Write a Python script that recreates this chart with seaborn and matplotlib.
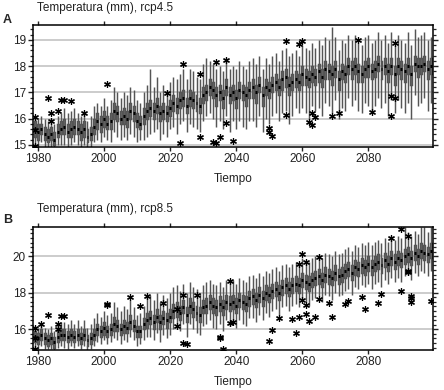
import numpy as np
import pandas as pd
import seaborn as sns
import matplotlib
matplotlib.use("Agg")
import matplotlib.pyplot as plt
from matplotlib.ticker import MultipleLocator

YEARS = list(range(1979, 2100))
XTICKS = [1980, 2000, 2020, 2040, 2060, 2080]

# rcp4.5 (panel A): whisker low, q1, median, q3, whisker high per year
A_MED = [15.6, 15.5, 15.6, 15.4, 15.3, 15.4, 15.2, 15.5, 15.6, 15.7,
         15.5, 15.6, 15.7, 15.6, 15.5, 15.6, 15.3, 15.4, 15.7, 15.9,
         15.8, 16.0, 15.8, 15.9, 16.3, 16.2, 16.0, 16.1, 16.0, 16.3,
         16.2, 15.9, 15.8, 16.1, 16.3, 16.4, 16.3, 16.5, 16.2, 16.3,
         16.2, 16.4, 16.6, 16.5, 16.7, 16.8, 16.5, 16.8, 16.7, 16.6,
         16.5, 16.9, 17.0, 17.2, 17.1, 16.9, 17.0, 16.8, 17.2, 16.9,
         17.0, 16.8, 17.1, 17.0, 16.9, 17.1, 17.2, 17.0, 17.3, 16.9,
         17.2, 17.1, 17.3, 17.4, 17.2, 17.5, 17.6, 17.3, 17.4, 17.5,
         17.4, 17.7, 17.6, 17.5, 17.7, 17.6, 17.8, 17.6, 17.9, 17.8,
         17.7, 17.9, 17.5, 17.8, 17.7, 18.0, 17.9, 18.0, 17.8, 17.7,
         17.9, 18.0, 17.8, 17.9, 18.1, 17.9, 18.0, 17.8, 18.0, 17.7,
         18.0, 17.9, 17.8, 18.0, 17.7, 18.1, 18.0, 18.0, 18.1, 17.9,
         18.0]
A_Q1 = [15.3, 15.2, 15.4, 15.2, 15.1, 15.2, 15.0, 15.3, 15.4, 15.4,
        15.3, 15.3, 15.4, 15.4, 15.2, 15.3, 15.1, 15.2, 15.4, 15.6,
        15.5, 15.7, 15.6, 15.6, 16.0, 15.9, 15.8, 15.8, 15.7, 16.0,
        15.9, 15.7, 15.6, 15.8, 16.0, 16.1, 16.0, 16.2, 15.9, 16.0,
        15.9, 16.1, 16.3, 16.2, 16.4, 16.5, 16.2, 16.5, 16.4, 16.3,
        16.2, 16.6, 16.7, 16.9, 16.8, 16.5, 16.7, 16.4, 16.9, 16.6,
        16.7, 16.4, 16.8, 16.7, 16.5, 16.8, 16.8, 16.6, 17.0, 16.5,
        16.9, 16.8, 17.0, 17.1, 16.9, 17.1, 17.2, 16.9, 17.1, 17.2,
        17.1, 17.3, 17.3, 17.2, 17.4, 17.3, 17.4, 17.2, 17.5, 17.5,
        17.3, 17.6, 17.1, 17.5, 17.4, 17.7, 17.5, 17.7, 17.4, 17.4,
        17.6, 17.6, 17.5, 17.6, 17.8, 17.5, 17.7, 17.4, 17.7, 17.3,
        17.7, 17.5, 17.4, 17.7, 17.3, 17.8, 17.6, 17.7, 17.8, 17.5,
        17.7]
A_Q3 = [15.9, 15.8, 15.8, 15.7, 15.6, 15.7, 15.5, 15.8, 15.9, 16.0,
        15.8, 15.9, 16.0, 15.9, 15.8, 15.9, 15.6, 15.7, 16.0, 16.2,
        16.1, 16.3, 16.1, 16.2, 16.6, 16.5, 16.3, 16.4, 16.3, 16.6,
        16.5, 16.2, 16.1, 16.4, 16.6, 16.7, 16.6, 16.8, 16.5, 16.6,
        16.5, 16.7, 16.9, 16.8, 17.0, 17.1, 16.8, 17.1, 17.0, 16.9,
        16.8, 17.2, 17.3, 17.5, 17.4, 17.2, 17.3, 17.1, 17.5, 17.2,
        17.3, 17.1, 17.4, 17.3, 17.2, 17.4, 17.5, 17.3, 17.6, 17.2,
        17.5, 17.4, 17.6, 17.7, 17.5, 17.8, 17.9, 17.6, 17.7, 17.8,
        17.7, 18.0, 17.9, 17.8, 18.0, 17.9, 18.1, 17.9, 18.2, 18.1,
        18.0, 18.2, 17.8, 18.1, 18.0, 18.3, 18.2, 18.3, 18.1, 18.0,
        18.2, 18.3, 18.1, 18.2, 18.4, 18.2, 18.3, 18.1, 18.3, 18.0,
        18.3, 18.2, 18.1, 18.3, 18.0, 18.4, 18.3, 18.3, 18.4, 18.2,
        18.3]
A_LO = [15.0, 14.9, 15.1, 14.9, 14.9, 14.9, 14.8, 15.0, 15.0, 15.0,
        14.9, 15.0, 15.1, 15.0, 14.9, 15.0, 14.8, 14.9, 15.1, 15.2,
        15.1, 15.3, 15.2, 15.1, 15.5, 15.3, 15.2, 15.3, 15.2, 15.4,
        15.3, 15.1, 15.2, 15.2, 15.3, 15.4, 15.5, 15.6, 15.2, 15.4,
        15.3, 15.6, 15.7, 15.4, 15.8, 15.9, 15.5, 15.8, 15.7, 15.6,
        15.5, 15.9, 16.1, 16.2, 16.0, 15.7, 15.9, 15.6, 16.1, 15.5,
        15.9, 15.6, 15.9, 15.7, 15.6, 15.9, 15.9, 15.7, 16.1, 15.5,
        16.0, 15.8, 16.1, 16.2, 15.9, 16.2, 16.3, 15.8, 16.1, 16.4,
        16.2, 16.4, 16.2, 16.0, 16.5, 16.3, 16.4, 16.1, 16.6, 16.5,
        16.2, 16.7, 16.0, 16.4, 16.3, 16.8, 16.5, 16.7, 16.3, 16.2,
        16.6, 16.5, 16.3, 16.5, 16.8, 16.4, 16.6, 16.1, 16.7, 16.2,
        16.7, 16.4, 16.2, 16.6, 16.0, 16.9, 16.5, 16.6, 16.8, 16.3,
        16.6]
A_HI = [16.1, 16.0, 16.1, 16.0, 15.9, 16.0, 15.8, 16.1, 16.2, 16.4,
        16.2, 16.3, 16.4, 16.2, 16.1, 16.3, 15.9, 16.1, 16.5, 16.6,
        16.5, 16.8, 16.5, 16.7, 17.2, 17.0, 16.8, 17.0, 16.9, 17.2,
        17.1, 16.7, 16.6, 17.0, 17.3, 17.9, 17.2, 17.6, 17.0, 17.3,
        17.1, 17.4, 17.6, 17.5, 17.7, 17.9, 17.5, 17.9, 17.8, 17.6,
        17.5, 18.1, 18.3, 18.2, 18.1, 17.9, 18.0, 17.8, 18.3, 17.9,
        18.0, 17.9, 18.2, 18.0, 17.9, 18.2, 18.3, 18.1, 18.4, 17.9,
        18.3, 18.1, 18.4, 18.5, 18.2, 18.6, 18.7, 18.4, 18.5, 18.6,
        18.4, 18.8, 18.7, 18.6, 18.9, 18.7, 19.0, 18.8, 19.1, 19.0,
        19.5, 19.1, 18.6, 19.0, 18.9, 19.2, 19.0, 19.2, 18.9, 18.8,
        19.1, 19.2, 18.9, 19.0, 19.3, 19.0, 19.2, 18.9, 19.3, 18.8,
        19.2, 19.0, 18.9, 19.3, 18.8, 19.4, 19.1, 19.2, 19.3, 19.0,
        19.1]
A_OUT_YEAR = [1979, 1979, 1979, 1983, 1984, 1984, 1986, 1987, 1988, 1990,
              1994, 2001, 2019, 2023, 2024, 2029, 2029, 2033, 2034, 2034,
              2035, 2037, 2037, 2039, 2050, 2050, 2051, 2055, 2055, 2059,
              2060, 2062, 2063, 2063, 2064, 2069, 2071, 2077, 2081, 2087,
              2087, 2088, 2088]
A_OUT_TEMP = [16.05, 15.55, 14.95, 16.8, 16.2, 15.9, 16.3, 16.72, 16.7, 16.68,
              16.2, 17.32, 16.98, 15.08, 18.08, 17.7, 15.3, 15.1, 18.15, 15.08,
              15.3, 18.25, 15.85, 15.15, 15.65, 15.5, 15.35, 18.95, 16.15, 18.85,
              18.95, 15.88, 15.77, 16.2, 16.08, 16.12, 16.2, 19.0, 16.27, 16.12,
              16.88, 16.8, 18.9]

# rcp8.5 (panel B)
B_MED = [15.6, 15.5, 15.7, 15.5, 15.4, 15.5, 15.3, 15.6, 15.7, 15.7,
         15.6, 15.7, 15.6, 15.7, 15.5, 15.7, 15.4, 15.5, 15.7, 16.0,
         15.9, 16.1, 15.9, 16.0, 16.3, 16.2, 16.0, 16.2, 16.1, 16.4,
         16.2, 15.9, 15.9, 16.3, 16.5, 16.6, 16.4, 16.7, 16.4, 16.6,
         16.5, 16.7, 17.0, 17.1, 16.9, 17.2, 16.8, 17.3, 17.1, 16.9,
         16.8, 17.2, 17.3, 17.5, 17.3, 17.2, 17.4, 17.2, 17.5, 17.4,
         17.5, 17.3, 17.6, 17.5, 17.4, 17.7, 17.8, 17.6, 17.9, 17.7,
         18.0, 17.9, 18.1, 18.2, 18.0, 18.3, 18.4, 18.2, 18.4, 18.5,
         18.4, 18.7, 18.6, 18.5, 18.7, 18.8, 18.9, 18.7, 19.0, 18.9,
         18.8, 19.1, 18.9, 19.0, 19.2, 19.3, 19.1, 19.4, 19.3, 19.5,
         19.4, 19.6, 19.4, 19.6, 19.7, 19.5, 19.8, 19.6, 19.9, 19.7,
         19.9, 19.8, 20.0, 20.1, 19.9, 20.2, 20.0, 20.3, 20.2, 20.1,
         20.3]
B_Q1 = [15.3, 15.2, 15.4, 15.2, 15.1, 15.2, 15.0, 15.3, 15.4, 15.4,
        15.3, 15.4, 15.3, 15.4, 15.2, 15.4, 15.1, 15.2, 15.4, 15.7,
        15.6, 15.7, 15.6, 15.7, 15.9, 15.9, 15.7, 15.8, 15.8, 16.0,
        15.9, 15.6, 15.6, 16.0, 16.1, 16.3, 16.0, 16.4, 16.0, 16.3,
        16.1, 16.4, 16.6, 16.7, 16.5, 16.9, 16.4, 16.9, 16.7, 16.5,
        16.4, 16.9, 16.9, 17.1, 16.9, 16.8, 17.0, 16.8, 17.1, 17.0,
        17.1, 16.9, 17.2, 17.1, 17.0, 17.3, 17.4, 17.2, 17.5, 17.3,
        17.6, 17.5, 17.7, 17.8, 17.6, 17.9, 18.0, 17.8, 18.0, 18.1,
        18.0, 18.3, 18.2, 18.1, 18.3, 18.4, 18.5, 18.3, 18.6, 18.5,
        18.4, 18.7, 18.5, 18.6, 18.8, 18.9, 18.7, 19.0, 18.9, 19.1,
        19.0, 19.2, 19.0, 19.2, 19.3, 19.1, 19.4, 19.2, 19.5, 19.3,
        19.5, 19.4, 19.6, 19.7, 19.5, 19.8, 19.6, 19.9, 19.8, 19.7,
        19.9]
B_Q3 = [15.9, 15.8, 16.0, 15.8, 15.7, 15.8, 15.6, 15.9, 16.0, 16.0,
        15.9, 16.0, 15.9, 16.0, 15.8, 16.0, 15.7, 15.8, 16.0, 16.3,
        16.2, 16.4, 16.2, 16.3, 16.7, 16.5, 16.3, 16.5, 16.4, 16.8,
        16.5, 16.2, 16.2, 16.6, 16.9, 17.0, 16.8, 17.1, 16.8, 17.0,
        16.9, 17.1, 17.4, 17.5, 17.3, 17.6, 17.2, 17.7, 17.5, 17.3,
        17.2, 17.6, 17.7, 17.9, 17.7, 17.6, 17.8, 17.6, 17.9, 17.8,
        17.9, 17.7, 18.0, 17.9, 17.8, 18.1, 18.2, 18.0, 18.3, 18.1,
        18.4, 18.3, 18.5, 18.6, 18.4, 18.7, 18.8, 18.6, 18.8, 18.9,
        18.8, 19.1, 19.0, 18.9, 19.1, 19.2, 19.3, 19.1, 19.4, 19.3,
        19.2, 19.5, 19.3, 19.4, 19.6, 19.7, 19.5, 19.8, 19.7, 19.9,
        19.8, 20.0, 19.8, 20.0, 20.1, 19.9, 20.2, 20.0, 20.3, 20.1,
        20.3, 20.2, 20.4, 20.5, 20.3, 20.6, 20.4, 20.7, 20.6, 20.5,
        20.7]
B_LO = [15.0, 14.9, 15.1, 14.9, 14.9, 14.9, 14.8, 15.0, 15.1, 15.0,
        14.9, 15.1, 15.0, 15.1, 14.9, 15.1, 14.8, 14.9, 15.1, 15.3,
        15.2, 15.4, 15.2, 15.3, 15.5, 15.4, 15.2, 15.4, 15.3, 15.6,
        15.4, 15.1, 15.2, 15.4, 15.6, 15.6, 15.4, 15.8, 15.3, 15.7,
        15.5, 15.7, 16.0, 16.1, 15.9, 16.3, 15.6, 16.3, 16.0, 15.8,
        15.7, 16.2, 16.3, 16.5, 16.1, 16.0, 16.3, 15.9, 16.5, 16.2,
        16.4, 16.1, 16.5, 16.3, 16.2, 16.6, 16.6, 16.4, 16.8, 16.5,
        16.9, 16.7, 17.0, 17.1, 16.8, 17.2, 17.3, 17.0, 17.3, 17.4,
        17.2, 17.6, 17.5, 17.3, 17.6, 17.7, 17.8, 17.5, 17.9, 17.8,
        17.6, 18.0, 17.8, 17.9, 18.1, 18.2, 17.9, 18.3, 18.2, 18.4,
        18.3, 18.5, 18.2, 18.5, 18.6, 18.3, 18.7, 18.5, 18.8, 18.6,
        18.8, 18.6, 18.9, 19.0, 18.7, 19.1, 18.9, 19.2, 19.1, 18.9,
        19.2]
B_HI = [16.2, 16.1, 16.3, 16.1, 16.0, 16.2, 15.9, 16.3, 16.4, 16.4,
        16.3, 16.5, 16.3, 16.5, 16.2, 16.5, 16.1, 16.3, 16.6, 16.9,
        16.7, 17.0, 16.8, 16.9, 17.5, 17.2, 17.0, 17.3, 17.1, 17.6,
        17.2, 16.8, 16.9, 17.3, 17.8, 17.9, 17.6, 18.0, 17.5, 17.9,
        17.7, 18.0, 18.3, 18.4, 18.1, 18.5, 18.0, 18.6, 18.3, 18.2,
        18.0, 18.4, 18.6, 18.7, 18.5, 18.4, 18.6, 18.3, 18.7, 18.6,
        18.7, 18.5, 18.8, 18.7, 18.6, 18.9, 19.0, 18.8, 19.1, 18.9,
        19.2, 19.1, 19.3, 19.4, 19.2, 19.5, 19.6, 19.4, 19.6, 19.7,
        19.6, 19.9, 19.8, 19.7, 19.9, 20.0, 20.1, 19.9, 20.2, 20.1,
        20.0, 20.3, 20.1, 20.2, 20.4, 20.5, 20.3, 20.6, 20.5, 20.7,
        20.6, 20.8, 20.6, 20.8, 20.9, 20.7, 21.0, 20.8, 21.1, 20.9,
        21.1, 21.0, 21.6, 21.3, 21.1, 21.4, 21.2, 21.6, 21.6, 21.3,
        21.6]
B_OUT_YEAR = [1979, 1979, 1979, 1981, 1983, 1986, 1986, 1987, 1988, 2001,
              2001, 2008, 2011, 2013, 2018, 2022, 2022, 2024, 2024, 2025,
              2028, 2035, 2035, 2036, 2038, 2038, 2039, 2050, 2051, 2053,
              2057, 2058, 2059, 2059, 2060, 2060, 2061, 2061, 2061, 2062,
              2064, 2065, 2065, 2068, 2069, 2073, 2074, 2078, 2079, 2083,
              2084, 2087, 2090, 2090, 2092, 2092, 2092, 2093, 2093, 2093,
              2099]
B_OUT_TEMP = [16.05, 15.55, 14.95, 16.3, 16.8, 16.28, 16.0, 16.75, 16.72, 17.38,
              17.33, 17.75, 17.27, 17.8, 17.45, 17.1, 16.18, 17.87, 15.25, 15.2,
              17.87, 15.5, 15.6, 14.95, 18.63, 16.35, 16.4, 15.35, 15.95, 16.6,
              16.55, 15.8, 16.67, 19.55, 20.1, 17.6, 19.7, 17.35, 16.85, 16.45,
              16.65, 19.95, 17.65, 17.45, 16.7, 17.4, 17.55, 17.75, 17.1, 17.45,
              17.95, 21.0, 18.1, 21.47, 21.1, 19.2, 19.15, 17.85, 17.7, 17.5,
              17.55]


def box_frame(lo, q1, med, q3, hi):
    # five values per year, so the library's quartiles land on q1/med/q3
    rows = []
    for i, yr in enumerate(YEARS):
        for v in (lo[i], q1[i], med[i], q3[i], hi[i]):
            rows.append((yr, v))
    return pd.DataFrame(rows, columns=["year", "temp"])


def draw_panel(ax, df, out_year, out_temp, ylim, ymajor, yminor):
    sns.boxplot(
        data=df, x="year", y="temp", native_scale=True, whis=(0, 100),
        width=0.6, color="#6a6a6a", saturation=1, linecolor="#555555",
        linewidth=1.05, showcaps=False, showfliers=False,
        medianprops=dict(color="black", linewidth=2.2, solid_capstyle="butt"),
        ax=ax,
    )
    sns.scatterplot(x=out_year, y=out_temp, marker=(6, 2, 0), s=18,
                    color="black", edgecolor="black", linewidth=0.9, ax=ax,
                    zorder=5)
    ax.set_xlim(1978.5, 2099.6)
    ax.set_ylim(*ylim)
    ax.set_xticks(XTICKS)
    ax.set_xticklabels([str(t) for t in XTICKS])
    ax.yaxis.set_major_locator(MultipleLocator(ymajor))
    ax.yaxis.set_minor_locator(MultipleLocator(yminor))
    ax.yaxis.grid(True, which="major", color="#c8c8c8", linewidth=1.3)
    ax.xaxis.grid(False)
    ax.set_axisbelow(True)
    ax.tick_params(axis="x", which="major", direction="out", top=True,
                   bottom=True, length=3, width=1, pad=1.5, labelsize=8.5,
                   colors="#222222")
    ax.tick_params(axis="y", which="major", direction="out", left=True,
                   right=True, length=3.5, width=1, pad=1.5, labelsize=8.5,
                   colors="#222222")
    ax.tick_params(axis="y", which="minor", direction="out", left=True,
                   right=True, length=2, width=0.9)
    for sp in ax.spines.values():
        sp.set_visible(True)
        sp.set_color("black")
        sp.set_linewidth(1.1)
    ax.set_ylabel("")
    ax.set_xlabel("Tiempo", fontsize=8.5, color="#222222")


sns.set_style("ticks")
plt.rcParams["font.family"] = ["Liberation Sans", "DejaVu Sans"]

fig = plt.figure(figsize=(4.44, 3.9), dpi=100)
ax_a = fig.add_axes([0.0743, 0.623, 0.901, 0.313])
ax_b = fig.add_axes([0.0743, 0.1026, 0.901, 0.3154])

draw_panel(ax_a, box_frame(A_LO, A_Q1, A_MED, A_Q3, A_HI),
           A_OUT_YEAR, A_OUT_TEMP, (14.92, 19.57), 1, 0.2)
draw_panel(ax_b, box_frame(B_LO, B_Q1, B_MED, B_Q3, B_HI),
           B_OUT_YEAR, B_OUT_TEMP, (14.87, 21.6), 2, 0.25)
ax_a.xaxis.set_label_coords(0.5, -0.213)
ax_b.xaxis.set_label_coords(0.5, -0.211)

fig.text(36.5 / 444, 1 - 8 / 390, "Temperatura (mm), rcp4.5", fontsize=8.5,
         ha="left", va="center", color="#222222")
fig.text(36.5 / 444, 1 - 209 / 390, "Temperatura (mm), rcp8.5", fontsize=8.5,
         ha="left", va="center", color="#222222")
fig.text(3 / 444, 1 - 20 / 390, "A", fontsize=9, fontweight="bold",
         ha="left", va="center")
fig.text(3 / 444, 1 - 220 / 390, "B", fontsize=9, fontweight="bold",
         ha="left", va="center")

fig.savefig("out.png", dpi=100)
